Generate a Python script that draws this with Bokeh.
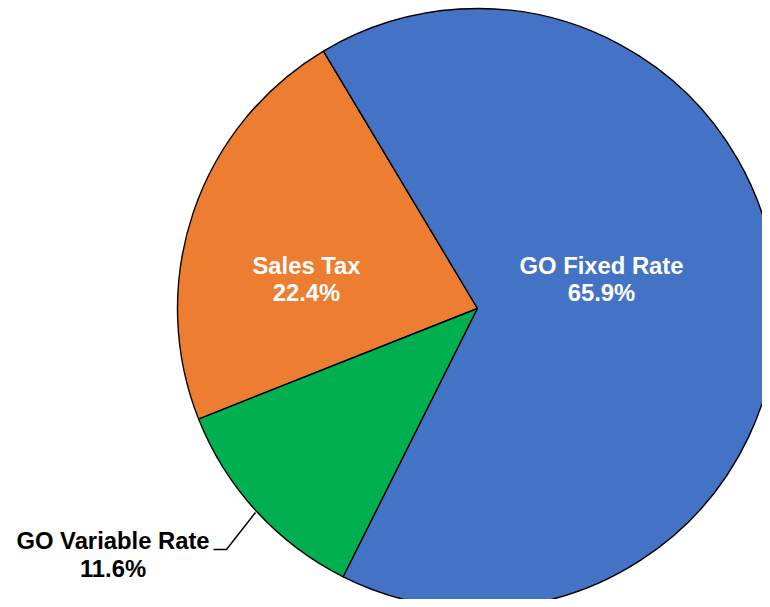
import math
from bokeh.plotting import figure
from bokeh.models import ColumnDataSource, Range1d
from bokeh.core.properties import value
from bokeh.embed import file_html
from bokeh.resources import INLINE

# ---- data (counter-clockwise drawing order) ----
categories = ["Sales Tax", "GO Variable Rate", "GO Fixed Rate"]
shares = [22.4, 11.6, 65.9]
pct_labels = ["22.4%", "11.6%", "65.9%"]
colors = ["#ED7D31", "#00B050", "#4472C4"]

# ---- layout ----
W, H = 762, 599
def X(px): return px
def Y(py): return H - py

cx, cy, r = X(477), Y(308), 300
start_deg = 120.9

total = sum(shares)
starts, ends = [], []
a = math.radians(start_deg)
for s in shares:
    starts.append(a)
    a = a + s / total * 2 * math.pi
    ends.append(a)

src = ColumnDataSource(dict(cat=categories, share=shares, start=starts, end=ends, color=colors))

p = figure(width=W, height=H, output_backend="svg", toolbar_location=None,
           x_range=Range1d(0, W), y_range=Range1d(0, H), min_border=0)
p.axis.visible = False
p.grid.visible = False
p.outline_line_color = None
p.background_fill_color = "white"
p.border_fill_color = "white"

p.wedge(x=cx, y=cy, radius=r, start_angle="start", end_angle="end", direction="anticlock",
        fill_color="color", line_color="black", line_width=1.4, source=src)

# leader line for GO Variable Rate
p.line(x=[X(213), X(226), X(255)], y=[Y(549), Y(549), Y(512)], line_color="black", line_width=1.5)

# labels: (x centre, line1 y, line2 y, colour)
label_pos = {
    "Sales Tax": (306, 264.5, 291.5, "white"),
    "GO Fixed Rate": (601, 264.5, 291.5, "white"),
    "GO Variable Rate": (112.5, 540, 568, "black"),
}
lx, ly, lt, lc = [], [], [], []
for cat, pct in zip(categories, pct_labels):
    x0, b1, b2, col = label_pos[cat]
    lx += [X(x0), X(x0)]
    ly += [Y(b1), Y(b2)]
    lt += [cat, pct]
    lc += [col, col]
lsrc = ColumnDataSource(dict(x=lx, y=ly, text=lt, color=lc))
p.text(x="x", y="y", text="text", text_color="color", source=lsrc,
       text_font=value("Liberation Sans"), text_font_style="bold", text_font_size="23.8px",
       text_align="center", text_baseline="alphabetic")

open("out.html", "w").write(file_html(p, INLINE))
